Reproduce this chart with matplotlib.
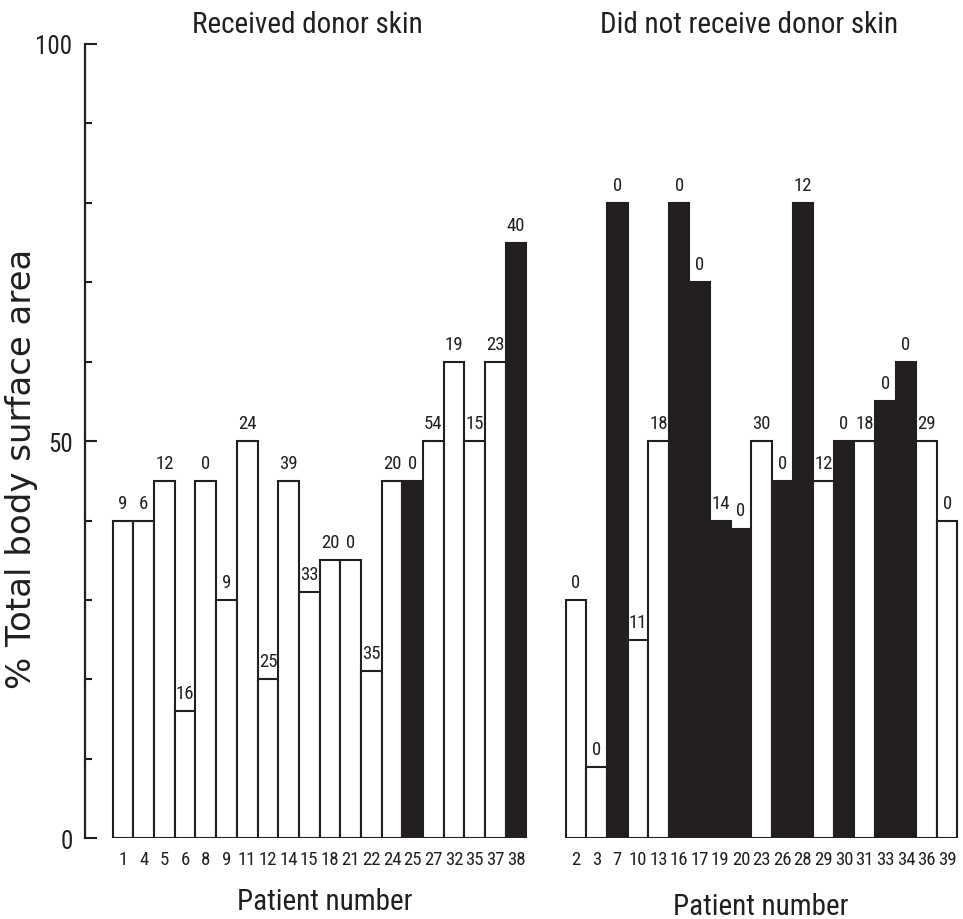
import matplotlib
matplotlib.use("Agg")
import matplotlib.pyplot as plt
from matplotlib import font_manager

# Patients who received donor skin
left_patients = ["1", "4", "5", "6", "8", "9", "11", "12", "14", "15",
                 "18", "21", "22", "24", "25", "27", "32", "35", "37", "38"]
left_tbsa = [40, 40, 45, 16, 45, 30, 50, 20, 45, 31,
             35, 35, 21, 45, 45, 50, 60, 50, 60, 75]
left_counts = [9, 6, 12, 16, 0, 9, 24, 25, 39, 33,
               20, 0, 35, 20, 0, 54, 19, 15, 23, 40]
left_died = ["25", "38"]

# Patients who did not receive donor skin
right_patients = ["2", "3", "7", "10", "13", "16", "17", "19", "20", "23",
                  "26", "28", "29", "30", "31", "33", "34", "36", "39"]
right_tbsa = [30, 9, 80, 25, 50, 80, 70, 40, 39, 50,
              45, 80, 45, 50, 50, 55, 60, 50, 40]
right_counts = [0, 0, 0, 11, 18, 0, 0, 14, 0, 30,
                0, 12, 12, 0, 18, 0, 0, 29, 0]
right_died = ["7", "16", "17", "19", "20", "26", "28", "30", "33", "34"]

y_ticks_major = [0, 50, 100]
y_ticks_minor = [10, 20, 30, 40, 60, 70, 80, 90]

INK = "#231f20"
installed = {f.name for f in font_manager.fontManager.ttflist}
NARROW = next((n for n in ("Roboto Condensed", "Archivo Narrow",
                           "Liberation Sans Narrow", "Liberation Sans")
               if n in installed), "DejaVu Sans")
WIDE = "DejaVu Sans"
plt.rcParams["font.family"] = [NARROW, "DejaVu Sans"]

W, H = 963, 920
fig = plt.figure(figsize=(W / 100, H / 100), dpi=100)


def px_box(x0, x1, ytop, ybot):
    return [x0 / W, 1 - ybot / H, (x1 - x0) / W, (ybot - ytop) / H]


ax_l = fig.add_axes(px_box(85, 527.5, 45, 839.3))
ax_r = fig.add_axes(px_box(564.7, 958.5, 45, 839.3))


def draw_panel(ax, patients, tbsa, counts, died):
    xs = list(range(len(patients)))
    colors = [INK if p in died else "white" for p in patients]
    ax.bar(xs, tbsa, width=1.0, color=colors, edgecolor=INK,
           linewidth=1.5, zorder=2)
    for x, v, c in zip(xs, tbsa, counts):
        ax.annotate(str(c), (x, v), xytext=(0, 6.5), textcoords="offset points",
                    ha="center", va="bottom", fontsize=13.5, color=INK)
    ax.set_ylim(0, 100)
    ax.set_xticks(xs)
    ax.set_xticklabels(patients, fontsize=13.5, color=INK)
    ax.tick_params(axis="x", length=0, pad=8.5)
    for s in ("top", "right", "bottom"):
        ax.spines[s].set_visible(False)
    ax.patch.set_visible(False)


draw_panel(ax_l, left_patients, left_tbsa, left_counts, left_died)
draw_panel(ax_r, right_patients, right_tbsa, right_counts, right_died)

ax_l.set_xlim(-1.84, len(left_patients) - 0.45)
ax_r.set_xlim(-0.55, len(right_patients) - 0.45)

# Left panel y axis
ax_l.spines["left"].set_linewidth(1.6)
ax_l.spines["left"].set_color(INK)
ax_l.set_yticks(y_ticks_major)
ax_l.set_yticklabels([str(v) for v in y_ticks_major], fontsize=18, color=INK)
ax_l.set_yticks(y_ticks_minor, minor=True)
ax_l.tick_params(axis="y", which="major", direction="in", length=8.6,
                 width=1.5, color=INK, pad=9)
ax_l.tick_params(axis="y", which="minor", direction="in", length=5,
                 width=1.5, color=INK)
ax_l.set_ylabel("% Total body surface area", family=WIDE, fontsize=24.5,
                color=INK)
ax_l.yaxis.label.set_va("center")
ax_l.yaxis.set_label_coords((22 - 85) / 442.5, (839.3 - 469) / 794.3)

# Right panel has no y axis
ax_r.spines["left"].set_visible(False)
ax_r.set_yticks([])

# Titles and axis labels
for title, tx, lx, ly in (
    ("Received donor skin", 307, 325, 910),
    ("Did not receive donor skin", 749.5, 760.5, 915),
):
    fig.text(tx / W, 1 - 33 / H, title, ha="center", va="baseline",
             fontsize=21, color=INK)
    fig.text(lx / W, 1 - ly / H, "Patient number", ha="center",
             va="baseline", fontsize=21, color=INK)

fig.savefig("out.png", dpi=100, facecolor="white")
